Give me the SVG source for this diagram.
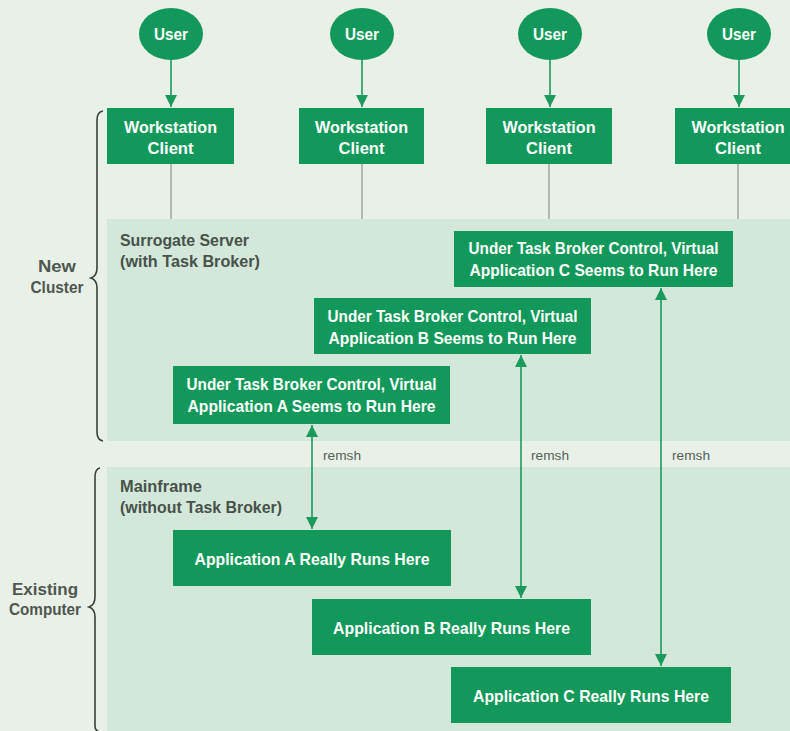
<svg xmlns="http://www.w3.org/2000/svg" width="790" height="731" viewBox="0 0 790 731">
<defs>
<style>
.bg{fill:#e9f0e8}
.region{fill:#d3e7da}
.box{fill:#11985a}
text{font-family:"Liberation Sans",Arial,sans-serif}
.bt{font-weight:bold;font-size:17px;fill:#ffffff;text-anchor:middle}
.lab{font-weight:bold;font-size:16px;fill:#48524b}
.side{font-weight:bold;font-size:16px;fill:#4f5650;text-anchor:middle}
.rem{font-size:13px;fill:#56605a}
.gl{stroke:#8a968e;stroke-width:1.2;fill:none}
.arr{stroke:#1b9a5e;stroke-width:1.6;fill:none}
.brace{stroke:#3a3f3b;stroke-width:1.6;fill:none}
</style>
<marker id="ah" viewBox="0 0 12 12" refX="12" refY="6" markerWidth="12" markerHeight="12" markerUnits="userSpaceOnUse" orient="auto-start-reverse">
<path d="M0,0 L12,6 L0,12 Z" fill="#1b9a5e"/>
</marker>
</defs>
<rect class="bg" x="0" y="0" width="790" height="731"/>
<g id="surrogate-region">
<rect class="region" x="107" y="219" width="683" height="222"/>
<text class="lab" x="120" y="246" textLength="129" lengthAdjust="spacingAndGlyphs">Surrogate Server</text>
<text class="lab" x="120" y="267" textLength="140" lengthAdjust="spacingAndGlyphs">(with Task Broker)</text>
</g>
<g id="mainframe-region">
<rect class="region" x="107" y="467" width="683" height="264"/>
<text class="lab" x="120" y="492" textLength="82" lengthAdjust="spacingAndGlyphs">Mainframe</text>
<text class="lab" x="120" y="513" textLength="162" lengthAdjust="spacingAndGlyphs">(without Task Broker)</text>
</g>
<g id="new-cluster">
<path class="brace" d="M103,111 Q97,112 97,120 L97,268 Q97,276 91,278 Q97,280 97,288 L97,432 Q97,440 103,441"/>
<text class="side" x="57" y="272" textLength="38" lengthAdjust="spacingAndGlyphs">New</text>
<text class="side" x="57" y="293" textLength="53" lengthAdjust="spacingAndGlyphs">Cluster</text>
</g>
<g id="existing-computer">
<path class="brace" d="M100,468 Q95,469 95,477 L95,597 Q95,605 89,607 Q95,609 95,617 L95,726 Q95,731 100,732"/>
<text class="side" x="45" y="595" textLength="66" lengthAdjust="spacingAndGlyphs">Existing</text>
<text class="side" x="45" y="615" textLength="72" lengthAdjust="spacingAndGlyphs">Computer</text>
</g>
<g id="connectors">
<line class="arr" x1="171" y1="60" x2="171" y2="107" marker-end="url(#ah)"/>
<line class="arr" x1="362" y1="60" x2="362" y2="107" marker-end="url(#ah)"/>
<line class="arr" x1="550" y1="60" x2="550" y2="107" marker-end="url(#ah)"/>
<line class="arr" x1="739" y1="60" x2="739" y2="107" marker-end="url(#ah)"/>
<line class="gl" x1="171" y1="164" x2="171" y2="219"/>
<line class="gl" x1="362" y1="164" x2="362" y2="219"/>
<line class="gl" x1="549" y1="164" x2="549" y2="219"/>
<line class="gl" x1="738" y1="164" x2="738" y2="219"/>
<line class="arr" x1="312" y1="425" x2="312" y2="529" marker-start="url(#ah)" marker-end="url(#ah)"/>
<line class="arr" x1="521" y1="355" x2="521" y2="598" marker-start="url(#ah)" marker-end="url(#ah)"/>
<line class="arr" x1="661" y1="288" x2="661" y2="666" marker-start="url(#ah)" marker-end="url(#ah)"/>
<text class="rem" x="323" y="460" textLength="38" lengthAdjust="spacingAndGlyphs">remsh</text>
<text class="rem" x="531" y="460" textLength="38" lengthAdjust="spacingAndGlyphs">remsh</text>
<text class="rem" x="672" y="460" textLength="38" lengthAdjust="spacingAndGlyphs">remsh</text>
</g>
<g id="user1"><ellipse class="box" cx="171" cy="34" rx="32" ry="26"/><text class="bt" x="171" y="40" textLength="34" lengthAdjust="spacingAndGlyphs">User</text></g>
<g id="user2"><ellipse class="box" cx="362" cy="34" rx="32" ry="26"/><text class="bt" x="362" y="40" textLength="34" lengthAdjust="spacingAndGlyphs">User</text></g>
<g id="user3"><ellipse class="box" cx="550" cy="34" rx="32" ry="26"/><text class="bt" x="550" y="40" textLength="34" lengthAdjust="spacingAndGlyphs">User</text></g>
<g id="user4"><ellipse class="box" cx="739" cy="34" rx="32" ry="26"/><text class="bt" x="739" y="40" textLength="34" lengthAdjust="spacingAndGlyphs">User</text></g>
<g id="ws1"><rect class="box" x="107" y="108" width="127" height="56"/><text class="bt" x="170.5" y="133" textLength="93" lengthAdjust="spacingAndGlyphs">Workstation</text><text class="bt" x="170.5" y="154" textLength="46" lengthAdjust="spacingAndGlyphs">Client</text></g>
<g id="ws2"><rect class="box" x="299" y="108" width="125" height="56"/><text class="bt" x="361.5" y="133" textLength="93" lengthAdjust="spacingAndGlyphs">Workstation</text><text class="bt" x="361.5" y="154" textLength="46" lengthAdjust="spacingAndGlyphs">Client</text></g>
<g id="ws3"><rect class="box" x="486" y="108" width="126" height="56"/><text class="bt" x="549" y="133" textLength="93" lengthAdjust="spacingAndGlyphs">Workstation</text><text class="bt" x="549" y="154" textLength="46" lengthAdjust="spacingAndGlyphs">Client</text></g>
<g id="ws4"><rect class="box" x="675" y="108" width="126" height="56"/><text class="bt" x="738" y="133" textLength="93" lengthAdjust="spacingAndGlyphs">Workstation</text><text class="bt" x="738" y="154" textLength="46" lengthAdjust="spacingAndGlyphs">Client</text></g>
<g id="virtA"><rect class="box" x="173" y="366" width="277" height="58"/><text class="bt" x="311.5" y="390" textLength="250" lengthAdjust="spacingAndGlyphs">Under Task Broker Control, Virtual</text><text class="bt" x="311.5" y="412" textLength="248" lengthAdjust="spacingAndGlyphs">Application A Seems to Run Here</text></g>
<g id="virtB"><rect class="box" x="314" y="298" width="277" height="56"/><text class="bt" x="452.5" y="322" textLength="250" lengthAdjust="spacingAndGlyphs">Under Task Broker Control, Virtual</text><text class="bt" x="452.5" y="344" textLength="248" lengthAdjust="spacingAndGlyphs">Application B Seems to Run Here</text></g>
<g id="virtC"><rect class="box" x="454" y="231" width="279" height="56"/><text class="bt" x="593.5" y="254" textLength="250" lengthAdjust="spacingAndGlyphs">Under Task Broker Control, Virtual</text><text class="bt" x="593.5" y="276" textLength="248" lengthAdjust="spacingAndGlyphs">Application C Seems to Run Here</text></g>
<g id="realA"><rect class="box" x="173" y="530" width="278" height="56"/><text class="bt" x="312" y="565" textLength="235" lengthAdjust="spacingAndGlyphs">Application A Really Runs Here</text></g>
<g id="realB"><rect class="box" x="312" y="599" width="279" height="56"/><text class="bt" x="451.5" y="634" textLength="237" lengthAdjust="spacingAndGlyphs">Application B Really Runs Here</text></g>
<g id="realC"><rect class="box" x="451" y="667" width="280" height="56"/><text class="bt" x="591" y="702" textLength="236" lengthAdjust="spacingAndGlyphs">Application C Really Runs Here</text></g>
</svg>
